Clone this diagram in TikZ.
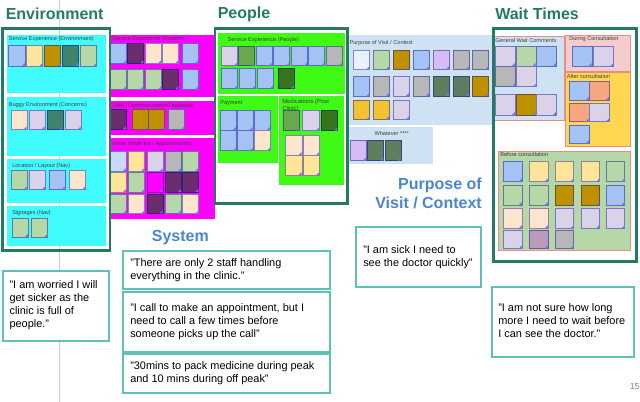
\documentclass[tikz,border=0pt]{standalone}
\usepackage{fontspec}
\setmainfont{Liberation Sans}
\definecolor{frame}{RGB}{36,122,98}
\definecolor{qborder}{RGB}{93,193,185}
\definecolor{bigblue}{RGB}{74,134,207}
\definecolor{cyanP}{RGB}{64,252,255}
\definecolor{magP}{RGB}{255,0,255}
\definecolor{greenP}{RGB}{62,250,20}
\definecolor{lbP}{RGB}{207,226,243}
\definecolor{pinkP}{RGB}{244,204,204}
\definecolor{orangeP}{RGB}{255,214,80}
\definecolor{lgreenP}{RGB}{182,215,168}
\definecolor{redB}{RGB}{234,140,130}
\definecolor{lblue}{RGB}{164,194,244}
\definecolor{vlblue}{RGB}{201,218,248}
\definecolor{vpale}{RGB}{234,241,250}
\definecolor{yellowN}{RGB}{255,229,153}
\definecolor{gold}{RGB}{191,144,0}
\definecolor{teal}{RGB}{62,132,108}
\definecolor{lgreen}{RGB}{182,215,168}
\definecolor{peach}{RGB}{252,229,205}
\definecolor{lpurple}{RGB}{217,210,233}
\definecolor{dpurple}{RGB}{108,45,110}
\definecolor{grayN}{RGB}{183,183,183}
\definecolor{mgreen}{RGB}{106,168,79}
\definecolor{dgreen}{RGB}{56,118,29}
\definecolor{violet}{RGB}{214,188,245}
\definecolor{dgg}{RGB}{94,126,96}
\definecolor{goldy}{RGB}{241,194,50}
\definecolor{salmon}{RGB}{246,167,127}
\definecolor{mauve}{RGB}{185,154,184}
\definecolor{pagenum}{RGB}{140,125,100}
\tikzset{
  bigtitle/.style={font=\fontsize{12}{13}\selectfont\bfseries, inner sep=0pt},
  ptitle/.style={font=\fontsize{4.2}{5}\selectfont, text=black!75, inner sep=0pt, anchor=west},
  quote/.style={draw=qborder, line width=1.4pt, fill=white},
  qtext/.style={font=\fontsize{8.2}{9.75}\selectfont, align=left, anchor=north west, inner sep=0pt},
  bframe/.style={draw=frame, line width=2.2pt},
  nfold/.style={fill=blue!55}
}
\newcommand\stk[5]{%
  \begin{scope}[shift={(#1,#2)}]
    \filldraw[fill=#5, draw=#5!70!blue!80!black, line width=.3pt] (0,0) rectangle (#3,#4);
    \fill[nfold] (#3,#4) -- ++(-3,0) -- ++(3,-3) -- cycle;
  \end{scope}}
\begin{document}
\begin{tikzpicture}[x=0.75pt,y=-0.75pt]
\useasboundingbox (0,0) rectangle (640,402);
% vertical guide line
\draw[black!20, line width=0.8pt] (59.3,0) -- (59.3,402);
% ---------- panels ----------
% environment
\fill[cyanP] (6.7,35) rectangle (106,92.7);
\fill[cyanP] (6.7,97.3) rectangle (106,156);
\fill[cyanP] (7.3,159.3) rectangle (106,202.7);
\fill[cyanP] (7.3,206) rectangle (106,246);
\node[ptitle] (t1) at (8.5,39.3) {Service Experience (Environment)};
\node[ptitle] (t2) at (8.5,105) {Buggy Environment (Concerns)};
\node[ptitle] (t3) at (12,165.7) {Location / Layout (Nav)};
\node[ptitle] (t4) at (12,212.7) {Signages (Nav)};
% system
\fill[magP] (110,35) rectangle (215,96.7);
\fill[magP] (110,100.7) rectangle (215,135);
\fill[magP] (110,138.3) rectangle (215,219.3);
\node[ptitle] (t5) at (112,39.3) {Service Experience (System)};
\node[ptitle] (t6) at (112,105.7) {SMS (Communication/Feedback)};
\node[ptitle] (t7) at (112,144) {Mode (Walk-ins / Appointments)};
% people
\fill[greenP] (217.7,33.3) rectangle (345,94);
\fill[greenP] (217.7,95.7) rectangle (277.7,162.7);
\fill[greenP] (279.3,95.7) rectangle (344.3,185);
\node[ptitle] (t8) at (227.7,40) {Service Experience (People)};
\node[ptitle] (t9) at (220,102.7) {Payment};
\node[ptitle, align=left, anchor=north west, font=\fontsize{4.4}{5.2}\selectfont] (t10) at (282,99.3) {Medications (Post\\Clinic)};
% purpose
\fill[lbP] (346.7,35) rectangle (491.7,125);
\fill[lbP] (346.7,126.7) rectangle (433.3,164);
\node[ptitle] (t11) at (349.3,42.7) {Purpose of Visit / Context};
\node[ptitle, anchor=center] (t12) at (391.7,133.3) {Whatever ****};
% wait times
\filldraw[fill=lbP, draw=redB, line width=.6pt] (493.3,36) rectangle (564,120.7);
\filldraw[fill=pinkP, draw=redB, line width=.6pt] (565,35) rectangle (630.7,71.7);
\filldraw[fill=orangeP, draw=redB, line width=.6pt] (565,72.7) rectangle (630.7,146.7);
\filldraw[fill=lgreenP, draw=redB, line width=.6pt] (498.3,151.7) rectangle (630.7,250.7);
\node[ptitle] (t13) at (495,40.7) {General Wait Comments};
\node[ptitle] (t14) at (569,39) {During Consultation};
\node[ptitle] (t15) at (566.5,76.7) {After consultation};
\node[ptitle] (t16) at (500,155) {Before consultation};
% ---------- notes ----------
% environment
\foreach \xa/\c in {8.3/lblue,26/yellowN,44/gold,62/teal,80/lgreen} {\stk{\xa}{45}{16.5}{21}{\c}}
\foreach \xa/\c in {10.7/peach,28.7/lpurple,46.7/teal,64.7/lpurple} {\stk{\xa}{110}{16}{19.5}{\c}}
\foreach \xa/\c in {10.7/lgreen,29.3/lpurple,48.7/lblue,69.3/peach} {\stk{\xa}{170.7}{16}{18.7}{\c}}
\foreach \xa/\c in {12/lgreen,31.3/lgreen} {\stk{\xa}{218}{16}{19}{\c}}
% system
\foreach \xa/\c in {110/lblue,127.3/dpurple,145/peach,162.3/peach,182/lblue} {\stk{\xa}{43.3}{16}{20}{\c}}
\foreach \xa/\c in {110/lgreen,127.3/lgreen,145/lgreen,162.3/dpurple,182/lblue} {\stk{\xa}{69.3}{16}{20}{\c}}
\foreach \xa/\c in {110/dpurple,131.7/gold,148.3/gold,168.3/grayN} {\stk{\xa}{109.3}{16}{20}{\c}}
\foreach \xa/\c in {110/vlblue,128.3/yellowN,146.7/lpurple,165/grayN,182.3/lgreen} {\stk{\xa}{151.7}{16}{19.5}{\c}}
\foreach \xa/\c in {110/yellowN,128.3/lgreen,146.7/magP,165/dpurple,182.3/dpurple} {\stk{\xa}{172.7}{16}{19.5}{\c}}
\foreach \xa/\c in {110/lgreen,128.3/peach,146.7/dpurple,165/lgreen,182.3/peach} {\stk{\xa}{194}{16}{19.5}{\c}}
% people
\foreach \xa/\c in {221/lpurple,238.3/mgreen,255.7/lblue,273.3/lblue,291/lblue,308.3/lblue,325.7/grayN} {\stk{\xa}{46}{16}{19.7}{\c}}
\foreach \xa/\c in {221/lblue,239/lblue,256.7/lblue,277.7/dgreen} {\stk{\xa}{68.3}{16.3}{20}{\c}}
\foreach \xa/\c in {220.3/lblue,237/lblue,254.3/lblue} {\stk{\xa}{110}{15.7}{20}{\c}}
\foreach \xa/\c in {220.3/lblue,237/lblue,254.3/peach} {\stk{\xa}{130.7}{15.7}{20}{\c}}
\foreach \xa/\c in {282.7/mgreen,302.3/lpurple,320.7/dgreen} {\stk{\xa}{110.5}{16.7}{20.2}{\c}}
\foreach \xa/\c in {285/peach,302.7/peach} {\stk{\xa}{135}{16.7}{20}{\c}}
\foreach \xa/\c in {285/yellowN,302.7/yellowN} {\stk{\xa}{155}{16.7}{20}{\c}}
% purpose
\foreach \xa/\c in {353.3/vpale,372.7/lgreen,392.7/gold,412.7/lblue,432.7/violet,452.7/grayN,472/grayN} {\stk{\xa}{50}{16.3}{19.3}{\c}}
\foreach \xa/\c in {353.3/lblue,372.7/grayN,392.7/lpurple,412.7/grayN,432.7/dgg,452.7/dgg,472/gold} {\stk{\xa}{76}{16.3}{20}{\c}}
\foreach \xa/\c in {353.3/goldy,372.7/goldy,392.7/lpurple} {\stk{\xa}{100}{16.3}{19.3}{\c}}
\foreach \xa/\c in {350/violet,367.3/dgg,384.7/dgg} {\stk{\xa}{140}{16}{20.7}{\c}}
% wait times
\foreach \xa/\c in {495/lpurple,515.7/lgreen,536/lblue} {\stk{\xa}{46.7}{20}{19.3}{\c}}
\foreach \xa/\c in {495/grayN,515.7/lpurple} {\stk{\xa}{66.7}{20}{20}{\c}}
\foreach \xa/\c in {495/lpurple,515.7/gold,536/lpurple} {\stk{\xa}{94.3}{20}{20.7}{\c}}
\foreach \xa/\c in {571.7/lblue,593.3/lpurple} {\stk{\xa}{46}{20}{20}{\c}}
\foreach \xa/\c in {569.3/lblue,589.3/salmon} {\stk{\xa}{81.7}{19.5}{18.3}{\c}}
\foreach \xa/\c in {569.3/salmon,589.3/lpurple} {\stk{\xa}{103.3}{19.5}{18.3}{\c}}
\stk{569.3}{125}{19.5}{18.3}{lblue}
\foreach \xa/\c in {503.3/lblue,529.3/yellowN,555/yellowN,580.7/yellowN,606/lgreen} {\stk{\xa}{161.7}{18.5}{20}{\c}}
\foreach \xa/\c in {503.3/lgreen,529.3/lgreen,555/gold,580.7/gold,606/lblue} {\stk{\xa}{185}{18.5}{20}{\c}}
\foreach \xa/\c in {503.3/peach,529.3/peach,555/lpurple,580.7/lpurple,606/lpurple} {\stk{\xa}{208.3}{18.5}{20}{\c}}
\foreach \xa/\c in {503.3/lpurple,529.3/mauve,555/grayN} {\stk{\xa}{230}{18.5}{18.5}{\c}}
% ---------- frames ----------
\draw[bframe] (2.7,28.3) rectangle (110,250.7);
\draw[bframe] (215,28.3) rectangle (347.3,203.3);
\draw[bframe] (493.3,28.3) rectangle (636.7,261.7);
% ---------- titles ----------
\node[bigtitle, text=frame, anchor=west] (env) at (5.5,14) {Environment};
\node[bigtitle, text=frame, anchor=west] (ppl) at (217.5,14) {People};
\node[bigtitle, text=frame, anchor=west] (wt) at (495,14) {Wait Times};
\node[bigtitle, text=bigblue] (sys) at (180.3,237.5) {System};
\node[bigtitle, text=bigblue, align=right, anchor=north east, font=\fontsize{12}{14.3}\selectfont\bfseries] (pov) at (482,178) {Purpose of\\Visit / Context};
% ---------- quotes ----------
\draw[quote] (2.7,270.7) rectangle (109,340.7);
\node[qtext] (q1) at (9.3,280.5) {"I am worried I will\\get sicker as the\\clinic is full of\\people."};
\draw[quote] (122.7,250.7) rectangle (330,289.3);
\node[qtext] (q2) at (130,258.5) {"There are only 2 staff handling\\everything in the clinic."};
\draw[quote] (122.7,291.7) rectangle (330,351.7);
\node[qtext] (q3) at (130,303.8) {"I call to make an appointment, but I\\need to call a few times before\\someone picks up the call"};
\draw[quote] (122.7,354.3) rectangle (330,393.3);
\node[qtext] (q4) at (130,361.8) {"30mins to pack medicine during peak\\and 10 mins during off peak"};
\draw[quote] (356,226.7) rectangle (480.7,287.3);
\node[qtext] (q5) at (363,245.5) {"I am sick I need to\\see the doctor quickly"};
\draw[quote] (491.7,287.3) rectangle (634,356.7);
\node[qtext] (q6) at (498,303.8) {"I am not sure how long\\more I need to wait before\\I can see the doctor."};
% page number
\node[font=\fontsize{6.5}{7}\selectfont, text=pagenum, anchor=west, inner sep=0pt] (pg) at (629.5,387) {15};
\end{tikzpicture}
\end{document}
